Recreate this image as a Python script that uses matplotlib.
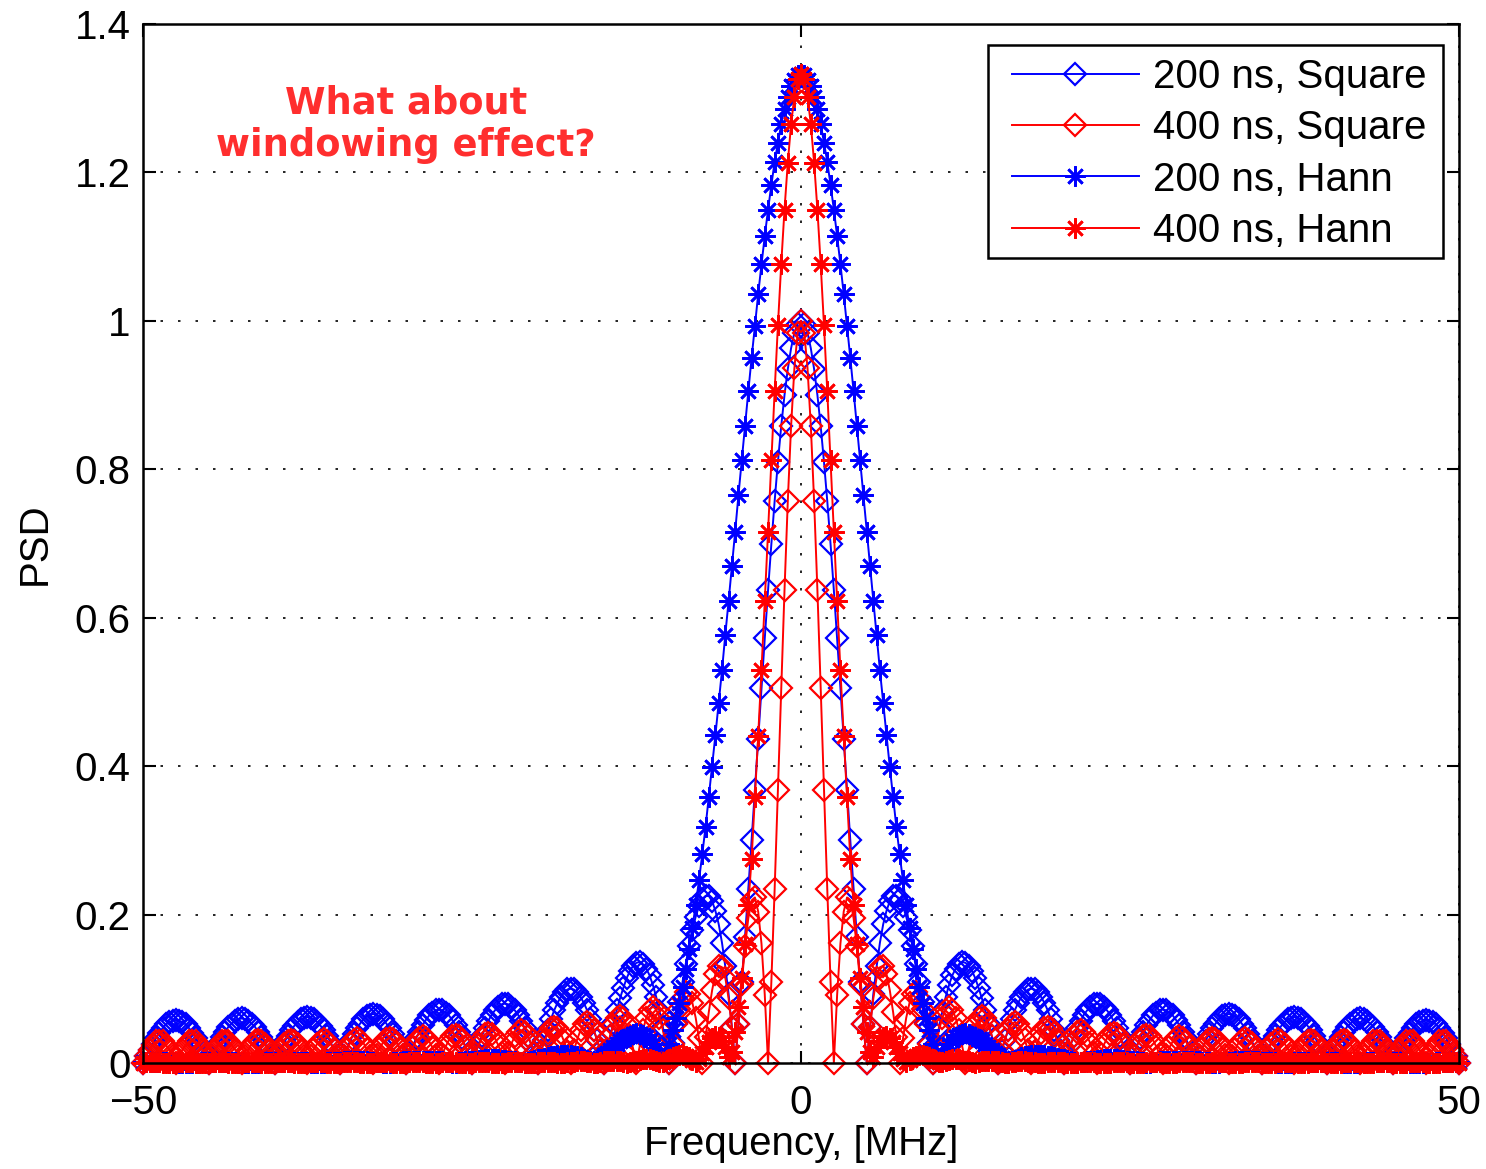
import numpy as np
import matplotlib.pyplot as plt
from matplotlib.patches import Rectangle

plt.rcParams['font.family'] = ['Liberation Sans', 'DejaVu Sans']

# frequency axis in MHz, 0.25 MHz bins
freq = np.linspace(-50, 50, 401)

# PSD for f = 0 ... 50 MHz (the spectra are symmetric, negative side is mirrored)
psd_square_200 = [
    1.000, 0.996, 0.984, 0.963, 0.935, 0.900, 0.858, 0.810, 0.757, 0.699, 0.637,
    0.572, 0.505, 0.436, 0.368, 0.300, 0.234, 0.170, 0.109, 0.052, 0.000,
    0.049, 0.093, 0.130, 0.162, 0.187, 0.205, 0.218, 0.225, 0.225, 0.221,
    0.211, 0.197, 0.179, 0.158, 0.134, 0.109, 0.082, 0.054, 0.027, 0.000,
    0.025, 0.049, 0.070, 0.089, 0.105, 0.118, 0.127, 0.133, 0.136, 0.135,
    0.131, 0.124, 0.114, 0.101, 0.087, 0.071, 0.054, 0.036, 0.018, 0.000,
    0.016, 0.031, 0.045, 0.059, 0.071, 0.081, 0.089, 0.095, 0.099, 0.100,
    0.099, 0.095, 0.089, 0.081, 0.071, 0.059, 0.045, 0.031, 0.016, 0.000,
    0.012, 0.025, 0.036, 0.047, 0.057, 0.065, 0.071, 0.076, 0.079, 0.080,
    0.079, 0.076, 0.071, 0.065, 0.057, 0.047, 0.036, 0.025, 0.012, 0.000,
    0.011, 0.022, 0.033, 0.042, 0.051, 0.058, 0.064, 0.068, 0.071, 0.072,
    0.071, 0.068, 0.064, 0.058, 0.051, 0.042, 0.033, 0.022, 0.011, 0.000,
    0.010, 0.020, 0.030, 0.039, 0.047, 0.053, 0.059, 0.063, 0.065, 0.066,
    0.065, 0.063, 0.059, 0.053, 0.047, 0.039, 0.030, 0.020, 0.010, 0.000,
    0.010, 0.019, 0.028, 0.036, 0.044, 0.050, 0.055, 0.059, 0.061, 0.062,
    0.061, 0.059, 0.055, 0.050, 0.044, 0.036, 0.028, 0.019, 0.010, 0.000,
    0.009, 0.019, 0.027, 0.035, 0.042, 0.049, 0.053, 0.057, 0.059, 0.060,
    0.059, 0.057, 0.053, 0.049, 0.042, 0.035, 0.027, 0.019, 0.009, 0.000,
    0.009, 0.018, 0.026, 0.034, 0.041, 0.047, 0.052, 0.055, 0.057, 0.058,
    0.057, 0.055, 0.052, 0.047, 0.041, 0.034, 0.026, 0.018, 0.009, 0.000,
]

psd_square_400 = [
    1.000, 0.984, 0.936, 0.858, 0.757, 0.637, 0.505, 0.368, 0.234, 0.109, 0.000,
    0.092, 0.161, 0.204, 0.223, 0.219, 0.195, 0.157, 0.107, 0.053, 0.000,
    0.048, 0.087, 0.115, 0.129, 0.131, 0.120, 0.098, 0.069, 0.035, 0.000,
    0.033, 0.061, 0.081, 0.093, 0.095, 0.088, 0.073, 0.052, 0.026, 0.000,
    0.023, 0.045, 0.061, 0.072, 0.076, 0.072, 0.061, 0.045, 0.023, 0.000,
    0.019, 0.037, 0.051, 0.060, 0.063, 0.060, 0.051, 0.037, 0.019, 0.000,
    0.017, 0.032, 0.044, 0.052, 0.055, 0.052, 0.044, 0.032, 0.017, 0.000,
    0.015, 0.029, 0.040, 0.047, 0.049, 0.047, 0.040, 0.029, 0.015, 0.000,
    0.014, 0.026, 0.036, 0.042, 0.044, 0.042, 0.036, 0.026, 0.014, 0.000,
    0.013, 0.024, 0.033, 0.039, 0.041, 0.039, 0.033, 0.024, 0.013, 0.000,
    0.012, 0.022, 0.031, 0.036, 0.038, 0.036, 0.031, 0.022, 0.012, 0.000,
    0.011, 0.021, 0.029, 0.034, 0.036, 0.034, 0.029, 0.021, 0.011, 0.000,
    0.011, 0.020, 0.028, 0.032, 0.034, 0.032, 0.028, 0.020, 0.011, 0.000,
    0.010, 0.019, 0.027, 0.031, 0.033, 0.031, 0.027, 0.019, 0.010, 0.000,
    0.010, 0.019, 0.026, 0.030, 0.032, 0.030, 0.026, 0.019, 0.010, 0.000,
    0.010, 0.018, 0.025, 0.029, 0.031, 0.029, 0.025, 0.018, 0.010, 0.000,
    0.010, 0.018, 0.025, 0.029, 0.031, 0.029, 0.025, 0.018, 0.010, 0.000,
    0.009, 0.018, 0.024, 0.029, 0.030, 0.029, 0.024, 0.018, 0.009, 0.000,
    0.009, 0.018, 0.024, 0.029, 0.030, 0.029, 0.024, 0.018, 0.009, 0.000,
    0.009, 0.018, 0.024, 0.029, 0.030, 0.029, 0.024, 0.018, 0.009, 0.000,
]

psd_hann_200 = [
    1.333, 1.331, 1.325, 1.316, 1.302, 1.285, 1.265, 1.240, 1.214, 1.183,
    1.150, 1.114, 1.076, 1.036, 0.993, 0.950, 0.905, 0.858, 0.812, 0.765,
    0.716, 0.669, 0.622, 0.577, 0.529, 0.485, 0.442, 0.399, 0.359, 0.318,
    0.281, 0.246, 0.213, 0.182, 0.153, 0.127, 0.103, 0.081, 0.061, 0.044,
    0.026, 0.013, 0.001,
    0.010, 0.019, 0.026, 0.031, 0.035, 0.038, 0.039, 0.040, 0.039, 0.037,
    0.035, 0.032, 0.029, 0.025, 0.022, 0.018, 0.014, 0.011, 0.007, 0.004, 0.000,
    0.002, 0.004, 0.006, 0.008, 0.009, 0.010, 0.011, 0.011, 0.011, 0.011,
    0.011, 0.010, 0.009, 0.008, 0.007, 0.006, 0.005, 0.004, 0.003, 0.001, 0.000,
    0.001, 0.001, 0.002, 0.003, 0.003, 0.004, 0.004, 0.005, 0.005, 0.005,
    0.005, 0.005, 0.004, 0.004, 0.003, 0.003, 0.002, 0.002, 0.001, 0.001, 0.000,
    0.000, 0.001, 0.001, 0.002, 0.002, 0.002, 0.002, 0.003, 0.003, 0.003,
    0.003, 0.003, 0.002, 0.002, 0.002, 0.002, 0.001, 0.001, 0.001, 0.000, 0.000,
    0.000, 0.001, 0.001, 0.001, 0.001, 0.002, 0.002, 0.002, 0.002, 0.002,
    0.002, 0.002, 0.002, 0.001, 0.001, 0.001, 0.001, 0.001, 0.000, 0.000, 0.000,
    0.000, 0.000, 0.001, 0.001, 0.001, 0.001, 0.001, 0.001, 0.001, 0.001,
    0.001, 0.001, 0.001, 0.001, 0.001, 0.001, 0.000, 0.000, 0.000, 0.000, 0.000,
    0.000, 0.000, 0.000, 0.001, 0.001, 0.001, 0.001, 0.001, 0.001, 0.001,
    0.001, 0.001, 0.001, 0.001, 0.000, 0.000, 0.000, 0.000, 0.000, 0.000, 0.000,
    0.000, 0.000, 0.000, 0.001, 0.001, 0.001, 0.001, 0.001, 0.001, 0.001, 0.001,
]

psd_hann_400 = [
    1.333, 1.326, 1.302, 1.265, 1.213, 1.150, 1.076, 0.994, 0.905, 0.812,
    0.716, 0.622, 0.529, 0.441, 0.358,
    0.275, 0.213, 0.160, 0.115, 0.075, 0.042, 0.015,
    0.008, 0.021, 0.030, 0.035, 0.036, 0.033, 0.028, 0.021, 0.013, 0.006,
    0.001, 0.004, 0.008, 0.010, 0.011, 0.011, 0.010, 0.008, 0.006, 0.003, 0.001,
    0.001, 0.003, 0.004, 0.005, 0.005, 0.005, 0.004, 0.003, 0.002, 0.001,
    0.000, 0.001, 0.002, 0.002, 0.003, 0.003, 0.002, 0.002, 0.001, 0.000,
    0.000, 0.001, 0.001, 0.002, 0.002, 0.002, 0.001, 0.001, 0.001, 0.000,
    0.000, 0.000, 0.001, 0.001, 0.001, 0.001, 0.001, 0.001, 0.000, 0.000,
    0.000, 0.000, 0.001, 0.001, 0.001, 0.001, 0.001, 0.000, 0.000, 0.000,
    0.000, 0.000, 0.001, 0.001, 0.001, 0.001, 0.001, 0.000, 0.000, 0.000,
    0.000, 0.000, 0.001, 0.001, 0.001, 0.001, 0.001, 0.000, 0.000, 0.000,
    0.000, 0.000, 0.001, 0.001, 0.001, 0.001, 0.001, 0.000, 0.000, 0.000,
    0.000, 0.000, 0.001, 0.001, 0.001, 0.001, 0.001, 0.000, 0.000, 0.000,
    0.000, 0.000, 0.001, 0.001, 0.001, 0.001, 0.001, 0.000, 0.000, 0.000,
    0.000, 0.000, 0.001, 0.001, 0.001, 0.001, 0.001, 0.000, 0.000, 0.000,
    0.000, 0.000, 0.001, 0.001, 0.001, 0.001, 0.001, 0.000, 0.000, 0.000,
    0.000, 0.000, 0.001, 0.001, 0.001, 0.001, 0.001, 0.000, 0.000, 0.000,
    0.000, 0.000, 0.001, 0.001, 0.001, 0.001, 0.001, 0.000, 0.000, 0.000,
    0.000, 0.000, 0.001, 0.001, 0.001, 0.001, 0.001, 0.000, 0.000, 0.000,
    0.000, 0.000, 0.001, 0.001, 0.001, 0.001, 0.001, 0.000,
]

series_labels = ['200 ns, Square', '400 ns, Square', '200 ns, Hann', '400 ns, Hann']
x_ticks = [-50, 0, 50]
x_ticklabels = ['\u221250', '0', '50']
y_ticks = [0, 0.2, 0.4, 0.6, 0.8, 1.0, 1.2, 1.4]
y_ticklabels = ['0', '0.2', '0.4', '0.6', '0.8', '1', '1.2', '1.4']


def mirror(half):
    half = np.asarray(half, dtype=float)
    return np.concatenate([half[:0:-1], half])


FS = 29
fig = plt.figure(figsize=(14.86, 11.69), dpi=100)
ax = fig.add_axes([0.0962, 0.0907, 0.8856, 0.8888])

diamond = dict(marker='D', ms=11.5, mfc='none', mew=1.6)
asterisk = dict(marker=(8, 2, 0), ms=14.5, mew=1.9)

curves = [psd_square_200, psd_square_400, psd_hann_200, psd_hann_400]
colors = ['b', 'r', 'b', 'r']
markers = [diamond, diamond, asterisk, asterisk]

for y, lab, c, mk in zip(curves, series_labels, colors, markers):
    ax.plot(freq, mirror(y), color=c, mec=c, lw=1.4, label=lab,
            clip_on=False, **mk)

ax.set_xlim(-50, 50)
ax.set_ylim(0, 1.4)
ax.set_xticks(x_ticks)
ax.set_xticklabels(x_ticklabels)
ax.set_yticks(y_ticks)
ax.set_yticklabels(y_ticklabels)
ax.tick_params(direction='in', top=True, right=True, length=9, width=1.5,
               labelsize=FS)
ax.tick_params(axis='x', pad=15)
ax.tick_params(axis='y', pad=9)
for s in ax.spines.values():
    s.set_linewidth(1.8)
ax.grid(True, color='k', lw=1.2, ls=(0, (1.5, 9)))
ax.set_axisbelow(True)

ax.set_xlabel('Frequency, [MHz]', fontsize=FS)
ax.set_ylabel('PSD', fontsize=FS)
ax.xaxis.set_label_coords(0.5, -0.06)
ax.yaxis.set_label_coords(-0.068, 0.5)

ax.text(-30, 1.265, 'What about\nwindowing effect?', ha='center', va='center',
        color='#ff2e2e', fontsize=26.5, fontweight='bold', family='DejaVu Sans',
        linespacing=1.2)

# legend box drawn separately so its padding can differ left/right vs top/bottom
ax.add_patch(Rectangle((0.6421, 0.7748), 0.3457, 0.2050, transform=ax.transAxes,
                       fc='white', ec='k', lw=1.8, zorder=4.5, clip_on=False))
leg = ax.legend(loc='upper left', bbox_to_anchor=(0.6603, 0.9673),
                borderaxespad=0, borderpad=0, fontsize=FS, handlelength=3.15,
                handletextpad=0.35, labelspacing=0.33, frameon=False)
leg.set_zorder(5)

fig.savefig('out.png', dpi=100)
